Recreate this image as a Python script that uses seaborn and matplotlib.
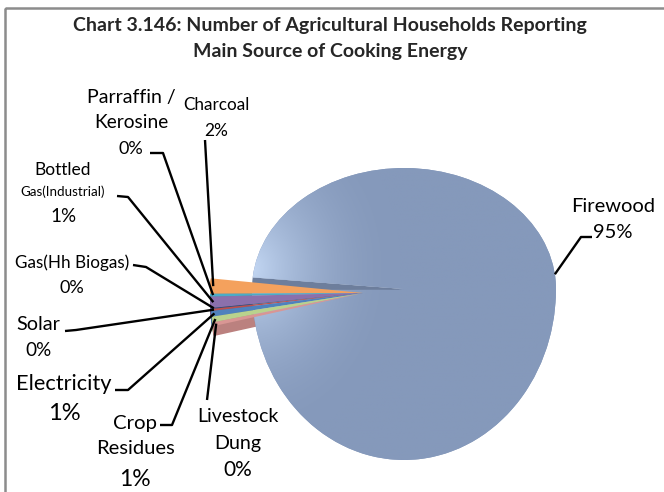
import numpy as np
import matplotlib
matplotlib.use("Agg")
import matplotlib.pyplot as plt
import seaborn as sns
from matplotlib.colors import to_rgb
from matplotlib.patches import Rectangle, Circle

# Main source of cooking energy, share of agricultural households (%)
categories = ["Charcoal", "Parraffin / Kerosine", "Bottled Gas(Industrial)",
              "Gas(Hh Biogas)", "Solar", "Electricity", "Crop Residues",
              "Livestock Dung", "Firewood"]
shares = [1.6, 0.3, 1.2, 0.1, 0.2, 0.6, 0.6, 0.4, 95.0]

# Text lines for each label (the percentage is appended below them)
label_lines = {
    "Charcoal": ["Charcoal"],
    "Parraffin / Kerosine": ["Parraffin /", "Kerosine"],
    "Bottled Gas(Industrial)": ["Bottled", "Gas(Industrial)"],
    "Gas(Hh Biogas)": ["Gas(Hh Biogas)"],
    "Solar": ["Solar"],
    "Electricity": ["Electricity"],
    "Crop Residues": ["Crop", "Residues"],
    "Livestock Dung": ["Livestock", "Dung"],
    "Firewood": ["Firewood"],
}

title_lines = ["Chart 3.146: Number of Agricultural Households Reporting",
               "Main Source of Cooking Energy"]

colors = ["#F4A15D", "#4BACC6", "#8B70AC", "#2C4D75", "#C0504D",
          "#4F81BD", "#B9D28D", "#D99694", "#8599BB"]
side_color = "#6D7E9C"   # cut face of the big slice

sns.set_theme(style="white")
plt.rcParams["font.family"] = ["Lato", "DejaVu Sans"]

W, H = 664, 492
fig = plt.figure(figsize=(W / 100, H / 100), dpi=100)
fig.patch.set_facecolor("white")


def px_axes(left, top, right, bottom):
    return fig.add_axes([left / W, (H - bottom) / H, (right - left) / W, (bottom - top) / H])


def darker(c, f=0.86):
    return tuple(v * f for v in to_rgb(c))


START = 174.5
FIRE = categories.index("Firewood")
wp = dict(linewidth=0)

# ---- side faces of the pulled-out small slices (behind the big slice) ----
RS, SDEPTH = 153.0, 10.0
ax_sd = px_axes(210, 140, 516, 446)
for off in np.arange(SDEPTH, 0, -1.0):
    wsd, _ = ax_sd.pie(shares, colors=[darker(c) for c in colors], startangle=START,
                       counterclock=True, radius=1.0, center=(0, -off / RS), wedgeprops=wp)
    wsd[FIRE].set_visible(False)
ax_sd.set_xlim(-1, 1)
ax_sd.set_ylim(-1, 1)
ax_sd.set_aspect("auto")
ax_sd.axis("off")

# ---- Firewood: seen in perspective, flatter above the centre than below ----
CX, CY, RX = 404.0, 289.0, 152.0
RY_UP, RY_DN = CY - 168.0, 460.0 - CY

hi = np.array([0xC4, 0xD8, 0xF4]) / 255
base = np.array(to_rgb(colors[FIRE]))


def shade(axes, y0, y1, ry, clip):
    n = 300
    gx, gy = np.meshgrid(np.linspace(-1, 1, n), np.linspace(y0, y1, n))
    px = CX + RX * gx
    py = CY - ry * gy
    d = np.sqrt(((px - 250) / 150) ** 2 + ((py - 268) / 175) ** 2)
    t = 1 - (1 - np.clip(d, 0, 1)) ** 2
    img = hi[None, None, :] * (1 - t[..., None]) + base[None, None, :] * t[..., None]
    im = axes.imshow(img, extent=(-1, 1, y0, y1), origin="lower", aspect="auto", zorder=3)
    im.set_clip_path(clip)


# lower half: the notch there is hidden behind the small slices, so fill it
ax_fl = px_axes(252, CY, 556, 460)
wl, _ = ax_fl.pie(shares, colors=[colors[FIRE]] * len(shares), startangle=START,
                  counterclock=True, radius=1.0, wedgeprops=wp)
for w in wl:
    w.set_clip_on(True)
disk = Circle((0, 0), 1.0, transform=ax_fl.transData)
shade(ax_fl, -1, 0, RY_DN, disk)
ax_fl.set_xlim(-1, 1)
ax_fl.set_ylim(-1, 0)
ax_fl.set_aspect("auto")
ax_fl.axis("off")

# upper half, with the cut face of the notch showing
ax_fu = px_axes(252, 168, 556, CY + 1)
top_cols = [c if k == FIRE else side_color for k, c in enumerate(colors)]
wu, _ = ax_fu.pie(shares, colors=top_cols, startangle=START, counterclock=True,
                  radius=1.0, wedgeprops=wp)
for w in wu:
    w.set_clip_on(True)
y_lo = -1.0 / RY_UP
shade(ax_fu, y_lo, 1, RY_UP, wu[FIRE])
ax_fu.set_xlim(-1, 1)
ax_fu.set_ylim(y_lo, 1)
ax_fu.set_aspect("auto")
ax_fu.axis("off")

# ---- Small slices, pulled out to the left ----
ax_s = px_axes(210, 140, 516, 446)
ws, _ = ax_s.pie(shares, colors=colors, startangle=START, counterclock=True,
                 radius=1.0, wedgeprops=wp)
ws[FIRE].set_visible(False)
ax_s.set_xlim(-1, 1)
ax_s.set_ylim(-1, 1)
ax_s.set_aspect("auto")
ax_s.axis("off")

# ---- Overlay in pixel coordinates for text and leader lines ----
ax = fig.add_axes([0, 0, 1, 1])
ax.set_xlim(0, W)
ax.set_ylim(H, 0)
ax.axis("off")
fig.canvas.draw()


def to_px(axes, x, y):
    disp = axes.transData.transform((x, y))
    return ax.transData.inverted().transform(disp)


# outer frame
ax.add_patch(Rectangle((5, 8), 700, 520, fill=False, edgecolor="#8C8C8C", linewidth=1.8))

ax.text(330, 26, title_lines[0], ha="center", va="center", fontsize=14, fontweight="bold")
ax.text(330, 52, title_lines[1], ha="center", va="center", fontsize=14, fontweight="bold")

# label layout: center x, line y positions, font sizes, leader points
layout = {
    "Firewood": (613, [206, 232], [14.5, 14.5], [(592, 237), (581, 237)]),
    "Charcoal": (216, [105, 131], [12.3, 12.5], [(205, 140)]),
    "Parraffin / Kerosine": (131, [97, 123, 149], [14, 13.8, 13], [(150, 153), (163, 153)]),
    "Bottled Gas(Industrial)": (63, [170, 192, 217], [12.5, 9.6, 13.5], [(117, 196), (128, 197)]),
    "Gas(Hh Biogas)": (72, [263, 288], [12.3, 13], [(133, 265), (146, 267)]),
    "Solar": (38, [325, 350], [14.3, 13.6], [(65, 331), (76, 330)]),
    "Electricity": (64, [384, 414], [15.7, 17], [(115, 390), (128, 390)]),
    "Crop Residues": (135, [424, 449, 479], [14.7, 14.5, 16.5], [(160, 425), (172, 425)]),
    "Livestock Dung": (238, [417, 443, 470], [14.1, 14.1, 15], [(207, 400)]),
}

for i, cat in enumerate(categories):
    cx, ys, sizes, pts = layout[cat]
    texts = label_lines[cat] + [f"{round(shares[i]):.0f}%"]
    for s, yy, fs in zip(texts, ys, sizes):
        ax.text(cx, yy, s, ha="center", va="center", fontsize=fs, color="black")
    if i == FIRE:
        ang = np.deg2rad(7)
        end = to_px(ax_fu, np.cos(ang), np.sin(ang))
    else:
        w = ws[i]
        ang = np.deg2rad((w.theta1 + w.theta2) / 2)
        end = to_px(ax_s, 0.98 * np.cos(ang), 0.98 * np.sin(ang))
    xs = [p[0] for p in pts] + [end[0]]
    yv = [p[1] for p in pts] + [end[1]]
    ax.plot(xs, yv, color="black", linewidth=1.7, solid_capstyle="butt")

fig.savefig("out.png", dpi=100)
